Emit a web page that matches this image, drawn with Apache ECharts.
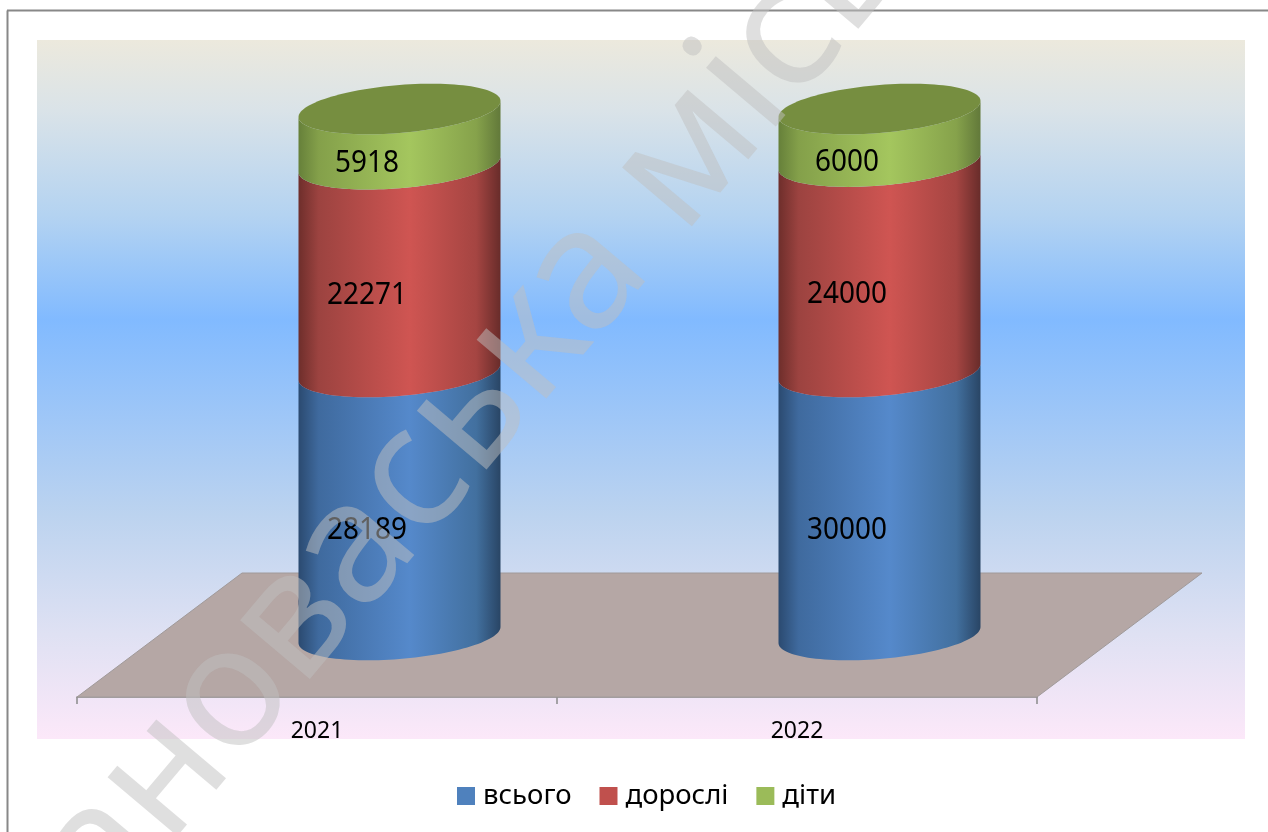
<!DOCTYPE html>
<html>
<head>
<meta charset="utf-8">
<style>html,body{margin:0;padding:0;background:#fff}#chart{width:1268px;height:832px}</style>
<script src="https://cdn.jsdelivr.net/npm/echarts@6/dist/echarts.min.js"></script>
</head>
<body>
<div id="chart"></div>
<script>
const categories = ['2021', '2022'];
const seriesNames = ['всього', 'дорослі', 'діти'];
const totalValues = [28189, 30000];
const adultValues = [22271, 24000];
const childValues = [5918, 6000];
const watermarkText = 'ановаська місь';

const valueSets = [totalValues, adultValues, childValues];
const legendColors = ['#4f81bd', '#c0504d', '#9bbb59'];
const sideStops = [
  ['#2b4a70', '#3f6a9e', '#5589cb', '#42709f', '#294565'],
  ['#6e2e2b', '#9c4340', '#cf5552', '#a54542', '#682c2a'],
  ['#66803a', '#84a04a', '#a4c65e', '#86a24b', '#62793a']
];
const depthX = 82.5, depthY = -62, radius = 101, minor = 24, shear = 8;
const labelDX = 50, labelDY = -35;

function rowsFor(s) {
  return categories.map((c, i) => {
    const sum = valueSets.reduce((a, v) => a + v[i], 0);
    let below = 0;
    for (let k = 0; k < s; k++) below += valueSets[k][i];
    return [i, below / sum * 100, (below + valueSets[s][i]) / sum * 100, valueSets[s][i]];
  });
}
function ringPoint(cx, cy, t) {
  return [cx + radius * Math.cos(t), cy + minor * Math.sin(t) - shear * Math.cos(t)];
}
function frontArc(cx, cy) {
  const pts = [];
  for (let i = 0; i <= 60; i++) pts.push(ringPoint(cx, cy, Math.PI * i / 60));
  return pts;
}
function fullRing(cx, cy) {
  const pts = [];
  for (let i = 0; i < 120; i++) pts.push(ringPoint(cx, cy, Math.PI * 2 * i / 120));
  return pts;
}
function cylinderRenderer(s) {
  return function (params, api) {
    const base = api.coord([api.value(0), api.value(1)]);
    const top = api.coord([api.value(0), api.value(2)]);
    const cx = base[0] + depthX, y0 = base[1] + depthY, y1 = top[1] + depthY;
    const lower = frontArc(cx, y0);
    const upper = frontArc(cx, y1).reverse();
    const st = sideStops[s];
    const children = [{
      type: 'polygon',
      shape: { points: lower.concat(upper) },
      style: {
        fill: { type: 'linear', x: 0, y: 0, x2: 1, y2: 0, colorStops: [
          { offset: 0, color: st[0] }, { offset: 0.1, color: st[1] }, { offset: 0.55, color: st[2] },
          { offset: 0.88, color: st[3] }, { offset: 1, color: st[4] }
        ] }
      }
    }];
    if (s === valueSets.length - 1) {
      children.push({ type: 'polygon', shape: { points: fullRing(cx, y1) }, style: { fill: '#768e40' } });
    }
    children.push({
      type: 'text',
      x: base[0] + labelDX,
      y: (base[1] + top[1]) / 2 + labelDY,
      scaleX: 0.9,
      style: {
        text: String(api.value(3)), fill: '#000', align: 'center', verticalAlign: 'middle',
        font: '31px "Noto Sans"'
      }
    });
    return { type: 'group', children };
  };
}

const chart = echarts.init(document.getElementById('chart'), null, { renderer: 'canvas' });
chart.setOption({
  animation: false,
  backgroundColor: '#fff',
  graphic: [
    { type: 'rect', z: -10, shape: { x: 37, y: 40, width: 1208, height: 699 },
      style: { fill: { type: 'linear', x: 0, y: 0, x2: 0, y2: 1, colorStops: [
        { offset: 0, color: '#ece9dd' }, { offset: 0.1, color: '#dae3e8' }, { offset: 0.25, color: '#b4d3f1' },
        { offset: 0.4, color: '#81baff' }, { offset: 0.68, color: '#bcd3ef' }, { offset: 0.85, color: '#dfe1f3' },
        { offset: 1, color: '#fce8f9' }
      ] } } },
    { type: 'line', z: -5, shape: { x1: 7.5, y1: 832, x2: 7.5, y2: 10.5 }, style: { stroke: '#888', lineWidth: 2 } },
    { type: 'line', z: -5, shape: { x1: 7, y1: 10.5, x2: 1268, y2: 10.5 }, style: { stroke: '#888', lineWidth: 2 } },
    { type: 'text', z: 100, silent: true, x: 70, y: 888, rotation: 0.87,
      style: { text: watermarkText, fill: 'rgba(192,192,192,0.5)', font: '170px "Noto Sans"', align: 'left', verticalAlign: 'middle' } }
  ],
  grid: { left: 77, top: 171, width: 960, height: 526 },
  legend: {
    left: 457, top: 782, padding: 0, itemWidth: 18, itemHeight: 18, itemGap: 28, icon: 'rect',
    data: seriesNames,
    textStyle: { fontFamily: 'Noto Sans', fontSize: 27.5, color: '#000', padding: [0, 0, 0, 3] }
  },
  xAxis: {
    type: 'category', data: categories, boundaryGap: true,
    axisLine: { lineStyle: { color: '#8b8b8b', width: 1.5 } },
    axisTick: { show: true, length: 7, lineStyle: { color: '#8b8b8b', width: 1.5 } },
    axisLabel: { color: '#000', fontFamily: 'Noto Sans', fontSize: 23, margin: 23 },
    splitLine: { show: false }
  },
  yAxis: { type: 'value', min: 0, max: 100, show: false, splitLine: { show: false } },
  series: [
    {
      type: 'custom', name: 'floor', coordinateSystem: 'cartesian2d', z: 1, silent: true,
      data: [[0, 0]],
      renderItem(params) {
        const g = params.coordSys;
        const b = g.y + g.height;
        return { type: 'polygon', shape: { points: [
          [g.x, b], [g.x + g.width, b], [g.x + g.width + 2 * depthX, b + 2 * depthY], [g.x + 2 * depthX, b + 2 * depthY]
        ] }, style: { fill: '#b5a7a5', stroke: '#a09a9a', lineWidth: 1 } };
      }
    }
  ].concat(seriesNames.map((name, s) => ({
    type: 'custom', name, coordinateSystem: 'cartesian2d', z: 3 + s,
    itemStyle: { color: legendColors[s] },
    encode: { x: 0, y: [1, 2] },
    data: rowsFor(s),
    renderItem: cylinderRenderer(s)
  })))
});
</script>
</body>
</html>
